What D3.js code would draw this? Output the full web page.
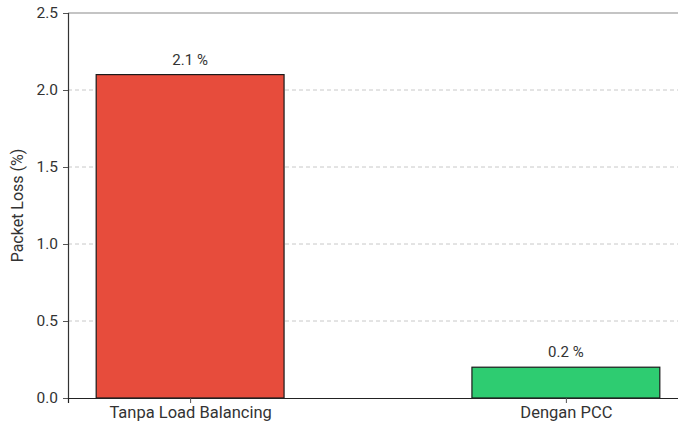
<!DOCTYPE html>
<html>
<head>
<meta charset="utf-8">
<script src="https://cdn.jsdelivr.net/npm/d3@7"></script>
<style>
  html, body { margin: 0; padding: 0; background: #fff; }
  svg { display: block; font-family: Roboto, "Open Sans", sans-serif; }
</style>
</head>
<body>
<svg id="chart" width="678" height="425"></svg>
<script>
// Packet loss comparison
const categories = ["Tanpa Load Balancing", "Dengan PCC"];
const packetLoss = [2.1, 0.2];
const barColors = ["#E74C3C", "#2ECC71"];
const yTicks = [0.0, 0.5, 1.0, 1.5, 2.0, 2.5];
const yLabel = "Packet Loss (%)";

const FONT = "Roboto, 'Open Sans', sans-serif";
const svg = d3.select("#chart");
const margin = { left: 68, top: 13, bottom: 398 };

// x domain in category units, with the usual padding around the bars
const x = d3.scaleLinear().domain([-0.325, 1.325]).range([margin.left, 688]);
const y = d3.scaleLinear().domain([0, 2.5]).range([margin.bottom, margin.top]);
const barWidth = 0.5;

// horizontal dashed grid
svg.append("g")
  .selectAll("line")
  .data(yTicks.filter(t => t > 0 && t < 2.5))
  .join("line")
  .attr("x1", margin.left).attr("x2", 688)
  .attr("y1", d => y(d)).attr("y2", d => y(d))
  .attr("stroke", "#c8c8c8").attr("stroke-width", 1)
  .attr("stroke-dasharray", "4,3");

// bars
svg.append("g")
  .selectAll("rect")
  .data(packetLoss)
  .join("rect")
  .attr("x", (d, i) => x(i - barWidth / 2))
  .attr("width", (d, i) => x(i + barWidth / 2) - x(i - barWidth / 2))
  .attr("y", d => y(d))
  .attr("height", d => y(0) - y(d))
  .attr("fill", (d, i) => barColors[i])
  .attr("stroke", "#1a1a1a").attr("stroke-width", 1.2);

// value labels
svg.append("g")
  .selectAll("text")
  .data(packetLoss)
  .join("text")
  .attr("x", (d, i) => x(i))
  .attr("y", d => y(d) - 10)
  .attr("text-anchor", "middle")
  .attr("font-family", FONT)
  .attr("font-size", 15)
  .attr("fill", "#333")
  .text(d => d.toFixed(1) + " %");

// top spine (light)
svg.append("line")
  .attr("x1", margin.left).attr("x2", 688)
  .attr("y1", y(2.5)).attr("y2", y(2.5))
  .attr("stroke", "#8a8a8a").attr("stroke-width", 1.2);

// y axis
const yAxis = svg.append("g")
  .attr("transform", `translate(${margin.left},0)`)
  .call(d3.axisLeft(y).tickValues(yTicks).tickFormat(d3.format(".1f")).tickSize(5).tickPadding(5));
yAxis.select(".domain").attr("stroke", "#333").attr("stroke-width", 1.2);
yAxis.selectAll(".tick line").attr("stroke", "#555");
yAxis.selectAll(".tick text").attr("font-size", 15.5).attr("fill", "#333")
  .attr("font-family", FONT);

// x axis
const xAxis = svg.append("g")
  .attr("transform", `translate(0,${margin.bottom})`)
  .call(d3.axisBottom(x).tickValues([0, 1]).tickFormat(i => categories[i]).tickSize(5).tickPadding(3));
xAxis.select(".domain").attr("stroke", "#222").attr("stroke-width", 1.2);
xAxis.selectAll(".tick line").attr("stroke", "#555");
xAxis.selectAll(".tick text").attr("font-size", 16.5).attr("fill", "#333")
  .attr("font-family", FONT);

// y label
svg.append("text")
  .attr("transform", `translate(23,${(y(0) + y(2.5)) / 2}) rotate(-90)`)
  .attr("text-anchor", "middle")
  .attr("font-family", FONT)
  .attr("font-size", 16)
  .attr("fill", "#333")
  .text(yLabel);
</script>
</body>
</html>
